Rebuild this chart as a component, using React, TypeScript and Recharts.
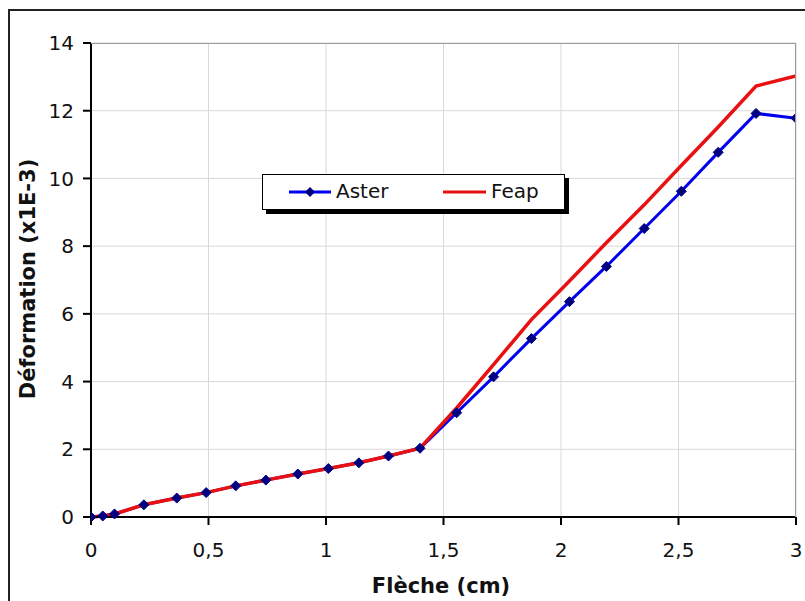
import React from "react";
import { LineChart, Line, XAxis, YAxis, CartesianGrid } from "recharts";

const fleche = [0, 0.05, 0.1, 0.225, 0.365, 0.49, 0.616, 0.744, 0.88, 1.01, 1.14, 1.266, 1.4, 1.556, 1.713, 1.874, 2.036, 2.193, 2.354, 2.512, 2.669, 2.83, 3.0];
const aster = [0, 0.03, 0.09, 0.36, 0.56, 0.72, 0.92, 1.09, 1.27, 1.43, 1.6, 1.8, 2.03, 3.08, 4.14, 5.27, 6.36, 7.4, 8.52, 9.62, 10.77, 11.92, 11.78];
const feap = [0, 0.03, 0.09, 0.36, 0.56, 0.72, 0.92, 1.09, 1.27, 1.43, 1.6, 1.8, 2.03, 3.22, 4.5, 5.83, 6.97, 8.1, 9.22, 10.38, 11.52, 12.73, 13.03];
const xTicks = [0, 0.5, 1, 1.5, 2, 2.5, 3];
const yTicks = [0, 2, 4, 6, 8, 10, 12, 14];
const seriesNames = ["Aster", "Feap"];

const asterData = fleche.map((x, i) => ({ x, y: aster[i] }));
const feapData = fleche.map((x, i) => ({ x, y: feap[i] }));

const FONT = "Verdana, 'DejaVu Sans', sans-serif";

const Diamond = (props: any) => {
  const { cx, cy } = props;
  if (cx == null || cy == null) return null;
  const r = 5;
  return (
    <polygon
      points={`${cx},${cy - r} ${cx + r},${cy} ${cx},${cy + r} ${cx - r},${cy}`}
      fill="#000080"
      stroke="#000080"
      strokeWidth={1}
    />
  );
};

const fmt = (v: number) => String(v).replace(".", ",");

export default function App() {
  return (
    <div style={{ position: "absolute", left: 0, top: 0, width: 805, height: 601, overflow: "hidden", background: "#fff", fontFamily: FONT }}>
      <div style={{ position: "absolute", left: 8, top: 9, width: 820, height: 620, border: "2px solid #222", boxSizing: "border-box" }} />
      <div style={{ position: "absolute", left: 0, top: 0 }}>
        <LineChart width={805} height={601} margin={{ top: 43, right: 9, bottom: 0, left: 0 }}>
          <CartesianGrid stroke="#d8d8d8" strokeWidth={1} vertical horizontal />
          <XAxis
            type="number"
            dataKey="x"
            domain={[0, 3]}
            ticks={xTicks}
            tickFormatter={fmt}
            allowDataOverflow
            height={84}
            tickSize={8}
            tickMargin={18}
            axisLine={{ stroke: "#000", strokeWidth: 2 }}
            tickLine={{ stroke: "#000", strokeWidth: 2 }}
            tick={{ fill: "#111", fontSize: 20, fontFamily: FONT }}
          />
          <YAxis
            type="number"
            dataKey="y"
            domain={[0, 14]}
            ticks={yTicks}
            width={91}
            tickSize={8}
            tickMargin={9}
            axisLine={{ stroke: "#000", strokeWidth: 2 }}
            tickLine={{ stroke: "#000", strokeWidth: 2 }}
            tick={{ fill: "#111", fontSize: 20, fontFamily: FONT }}
          />
          <Line data={asterData} dataKey="y" name={seriesNames[0]} type="linear" stroke="#0000ee" strokeWidth={3} dot={false} isAnimationActive={false} />
          <Line data={feapData} dataKey="y" name={seriesNames[1]} type="linear" stroke="#e81010" strokeWidth={3.5} dot={false} isAnimationActive={false} />
          <Line data={asterData} dataKey="y" name="AsterMarkers" type="linear" stroke="none" dot={<Diamond />} activeDot={false} legendType="none" isAnimationActive={false} />
        </LineChart>
      </div>
      {/* plot border top/right */}
      <div style={{ position: "absolute", left: 91, top: 43, width: 705, height: 474, borderTop: "1px solid #999", borderRight: "1px solid #999", boxSizing: "border-box", pointerEvents: "none" }} />
      {/* axis titles */}
      <div style={{ position: "absolute", left: 0, width: 882, top: 574, textAlign: "center", fontWeight: "bold", fontSize: 21, color: "#111" }}>Flèche (cm)</div>
      <div style={{ position: "absolute", left: 28, top: 279, transform: "translate(-50%, -50%) rotate(-90deg)", whiteSpace: "nowrap", fontWeight: "bold", fontSize: 21, color: "#111" }}>Déformation (x1E-3)</div>
      {/* legend */}
      <div style={{ position: "absolute", left: 262, top: 174, width: 303, height: 36, border: "1px solid #000", background: "#fff", boxShadow: "4px 4px 0 #000", boxSizing: "border-box" }}>
        <svg width={42} height={12} style={{ position: "absolute", left: 26, top: 11 }}>
          <line x1={0} y1={6} x2={42} y2={6} stroke="#0000ee" strokeWidth={3} />
          <polygon points="21,1 26,6 21,11 16,6" fill="#000080" />
        </svg>
        <span style={{ position: "absolute", left: 73, top: 4, fontSize: 20, color: "#111" }}>{seriesNames[0]}</span>
        <svg width={43} height={12} style={{ position: "absolute", left: 180, top: 11 }}>
          <line x1={0} y1={6} x2={43} y2={6} stroke="#e81010" strokeWidth={3} />
        </svg>
        <span style={{ position: "absolute", left: 228, top: 4, fontSize: 20, color: "#111" }}>{seriesNames[1]}</span>
      </div>
    </div>
  );
}
